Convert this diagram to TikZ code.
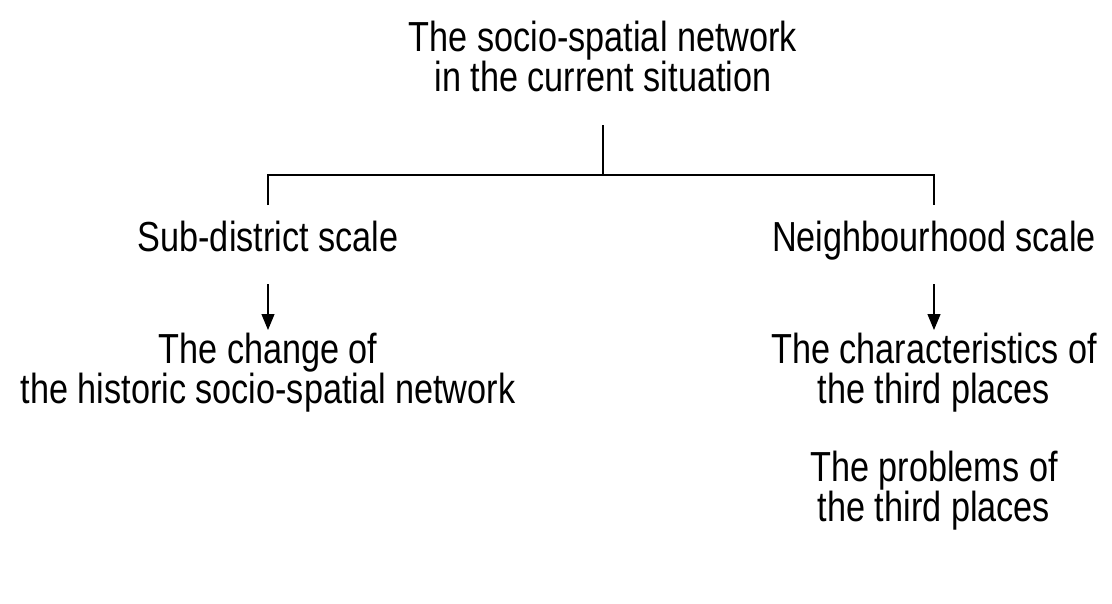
\documentclass[tikz,border=0pt]{standalone}
\usepackage{fontspec}
\setmainfont{Liberation Sans}[FakeStretch=0.815]
\usetikzlibrary{arrows.meta}
% invisible rule giving every text line the same height and depth
\newcommand\linestrut{\rule[-9pt]{0pt}{39pt}}
\begin{document}
\begin{tikzpicture}[x=1pt,y=-1pt,
  label/.style={align=center,inner sep=0pt,font=\fontsize{42}{40}\selectfont},
  link/.style={line width=1.2pt},
  arr/.style={line width=1.2pt,-{Triangle[width=13pt,length=16pt]}}]
  \useasboundingbox (0,0) rectangle (1112,603);
  \node[label] (top) at (603,61) {\linestrut The socio-spatial network\\\linestrut in the current situation};
  \node[label] (sub) at (268,241) {\linestrut Sub-district scale};
  \node[label] (nbh) at (934,241) {\linestrut Neighbourhood scale};
  \node[label] (change) at (268,373) {\linestrut The change of\\\linestrut the historic socio-spatial network};
  \node[label] (chars) at (934,373) {\linestrut The characteristics of\\\linestrut the third places};
  \node[label] (probs) at (934,491) {\linestrut The problems of\\\linestrut the third places};
  % tree fork below the title
  \coordinate (t0) at (603,125);
  \coordinate (fork) at (603,175);
  \coordinate (sl) at (268,175);
  \coordinate (nr) at (934,175);
  \coordinate (sd) at (268,205);
  \coordinate (nd) at (934,205);
  \draw[link] (t0) -- (fork);
  \draw[link] (sd) -- (sl) -- (nr) -- (nd);
  % arrows from each scale to its topics
  \coordinate (sa) at (268,284);
  \coordinate (sb) at (268,330);
  \coordinate (na) at (934,284);
  \coordinate (nb) at (934,330);
  \draw[arr] (sa) -- (sb);
  \draw[arr] (na) -- (nb);
\end{tikzpicture}
\end{document}
